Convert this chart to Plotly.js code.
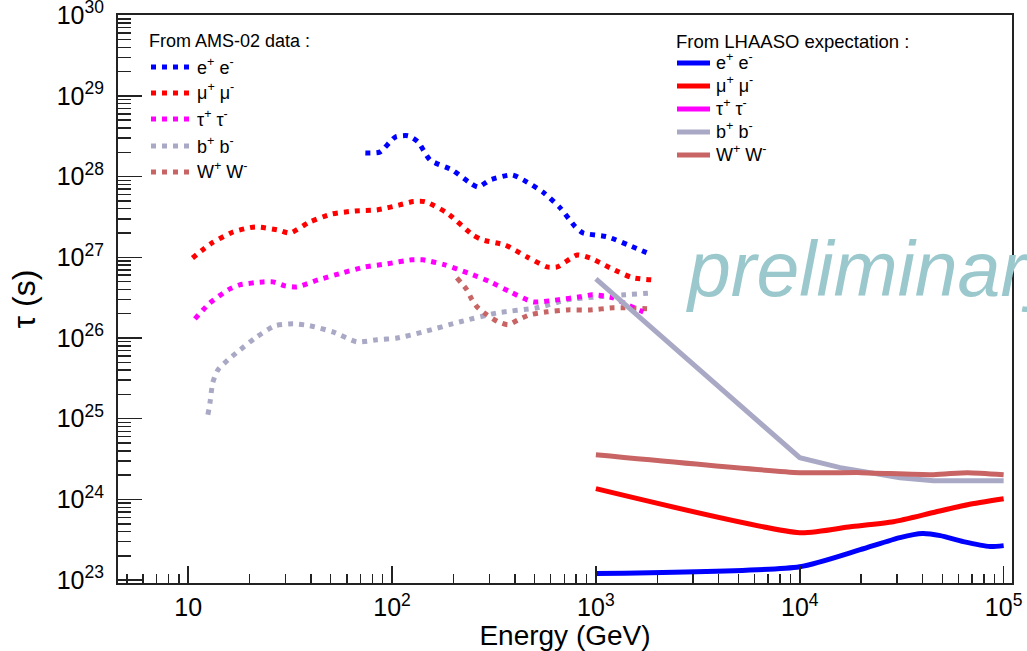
<!DOCTYPE html>
<html>
<head>
<meta charset="utf-8">
<script src="https://cdn.plot.ly/plotly-3.0.1.min.js"></script>
<style>html,body{margin:0;padding:0;background:#fff;}#chart{width:1027px;height:651px;}</style>
</head>
<body>
<div id="chart"></div>
<script>
// ---- AMS-02 derived limits (dotted) ----
const amsEeE   = [74, 87, 104, 120, 134, 154, 197, 242, 264, 303, 388, 440, 551, 668, 791, 866, 1136, 1442, 1890];
const amsEeTau = [1.96e28, 2.01e28, 3.1e28, 3.2e28, 2.7e28, 1.6e28, 1.21e28, 8.3e27, 7.4e27, 9.1e27, 1.05e28, 9.1e27, 6.4e27, 4.1e27, 2.4e27, 2.0e27, 1.8e27, 1.42e27, 1.07e27];

const amsMuE   = [10.5, 13.1, 16.6, 21.3, 27.6, 31.6, 39.5, 50.7, 65.7, 84.3, 109, 127, 145, 186, 249, 279, 359, 460, 577, 646, 810, 937, 1175, 1507, 1910];
const amsMuTau = [9.8e26, 1.51e27, 2.06e27, 2.38e27, 2.18e27, 2.0e27, 2.74e27, 3.44e27, 3.75e27, 3.86e27, 4.46e27, 4.9e27, 4.9e27, 3.55e27, 1.89e27, 1.64e27, 1.42e27, 1.01e27, 7.6e26, 7.6e26, 1.07e27, 9.8e26, 7.4e26, 5.6e26, 5.25e26];

const amsTauE   = [10.8, 12.8, 15.7, 17.9, 23.3, 26.1, 29.9, 34.2, 43.4, 56.9, 73.6, 94.4, 125, 142, 182, 236, 303, 380, 492, 646, 837, 959, 1216, 1426, 1710];
const amsTauTau = [1.73e26, 2.73e26, 3.95e26, 4.55e26, 4.96e26, 4.96e26, 4.43e26, 4.3e26, 5.25e26, 6.4e26, 7.6e26, 8.3e26, 9.3e26, 9.3e26, 8.05e26, 6.4e26, 4.96e26, 3.73e26, 2.8e26, 2.97e26, 3.24e26, 3.43e26, 3.15e26, 2.58e26, 2.11e26];

const amsBbE   = [12.5, 12.8, 13.2, 14.0, 15.7, 17.5, 21.3, 26.7, 32.7, 39.5, 51.3, 67.3, 84.3, 106, 142, 216, 328, 515, 723, 1014, 1390, 1910];
const amsBbTau = [1.12e25, 1.58e25, 2.79e25, 4.04e25, 5.37e25, 6.75e25, 1.0e26, 1.42e26, 1.5e26, 1.42e26, 1.19e26, 8.97e25, 9.5e25, 1.0e26, 1.19e26, 1.59e26, 2.05e26, 2.37e26, 2.97e26, 3.24e26, 3.43e26, 3.63e26];

const amsWwE   = [208, 233, 247, 264, 292, 331, 371, 415, 475, 577, 723, 937, 1216, 1390, 1782];
const amsWwTau = [5.56e26, 3.95e26, 2.97e26, 2.37e26, 1.94e26, 1.59e26, 1.46e26, 1.68e26, 1.94e26, 2.11e26, 2.23e26, 2.23e26, 2.37e26, 2.37e26, 2.30e26];

// ---- LHAASO expectation (solid) ----
const lhEeE   = [1000, 10000, 19800, 31000, 39900, 48900, 63400, 86000, 100000];
const lhEeTau = [1.21e23, 1.47e23, 2.39e23, 3.37e23, 3.78e23, 3.56e23, 3.0e23, 2.61e23, 2.68e23];
const lhMuE   = [1000, 10000, 17700, 28800, 45300, 66500, 100000];
const lhMuTau = [1.36e24, 3.88e23, 4.6e23, 5.3e23, 6.9e23, 8.6e23, 1.02e24];
const lhTauE   = [];
const lhTauTau = [];
const lhBbE   = [1000, 10000, 15800, 31000, 45300, 100000];
const lhBbTau = [5.4e26, 3.29e24, 2.48e24, 1.86e24, 1.71e24, 1.71e24];
const lhWwE   = [1000, 10000, 20000, 45300, 66500, 100000];
const lhWwTau = [3.58e24, 2.15e24, 2.15e24, 2.03e24, 2.15e24, 2.03e24];

const channelLabels = ['e<sup>+</sup> e<sup>-</sup>', '\u03bc<sup>+</sup> \u03bc<sup>-</sup>', '\u03c4<sup>+</sup> \u03c4<sup>-</sup>', 'b<sup>+</sup> b<sup>-</sup>', 'W<sup>+</sup> W<sup>-</sup>'];
const channelColors = ['#0000ff', '#ff0000', '#ff00ff', '#a9a9c6', '#c86464'];

const DOT = '5px,6px';
function dotted(x, y, c) {
  return {x: x, y: y, type: 'scatter', mode: 'lines', showlegend: false,
    line: {color: c, width: 5, dash: DOT, shape: 'spline', smoothing: 0.6}, hoverinfo: 'skip'};
}
function solid(x, y, c, shp) {
  return {x: x, y: y, type: 'scatter', mode: 'lines', showlegend: false,
    line: {color: c, width: 5, shape: shp || 'spline', smoothing: 0.6}, hoverinfo: 'skip'};
}

const data = [
  dotted(amsBbE, amsBbTau, channelColors[3]),
  dotted(amsWwE, amsWwTau, channelColors[4]),
  dotted(amsTauE, amsTauTau, channelColors[2]),
  dotted(amsMuE, amsMuTau, channelColors[1]),
  dotted(amsEeE, amsEeTau, channelColors[0]),
  solid(lhBbE, lhBbTau, channelColors[3], 'linear'),
  solid(lhWwE, lhWwTau, channelColors[4]),
  solid(lhMuE, lhMuTau, channelColors[1]),
  solid(lhEeE, lhEeTau, channelColors[0]),
  solid(lhTauE, lhTauTau, channelColors[2])
];

// legend construction (paper coordinates)
const W = 1027, H = 651, ML = 118, MR = 15, MT = 15, MB = 68;
const PW = W - ML - MR, PH = H - MT - MB;
const px = v => (v - ML) / PW;
const py = v => (H - MB - v) / PH;

const FAM = 'Liberation Sans, Arial, sans-serif';
const shapes = [];
const annotations = [];
const entryFont = {family: FAM, size: 18, color: '#000'};

annotations.push({xref: 'paper', yref: 'paper', x: px(147), y: py(41), xanchor: 'left', yanchor: 'middle',
  text: 'From AMS-02 data :', showarrow: false, font: {family: FAM, size: 18, color: '#000'}});
annotations.push({xref: 'paper', yref: 'paper', x: px(674), y: py(41), xanchor: 'left', yanchor: 'middle',
  text: 'From LHAASO expectation :', showarrow: false, font: {family: FAM, size: 18.5, color: '#000'}});

const leftY = [67, 93, 119, 146, 172];
const rightY = [63, 86, 109, 132, 155];
channelLabels.forEach((lab, i) => {
  shapes.push({type: 'line', xref: 'paper', yref: 'paper', x0: px(151), x1: px(191), y0: py(leftY[i]), y1: py(leftY[i]),
    line: {color: channelColors[i], width: 5, dash: DOT}});
  annotations.push({xref: 'paper', yref: 'paper', x: px(195), y: py(leftY[i] - 1), xanchor: 'left', yanchor: 'middle',
    text: lab, showarrow: false, font: entryFont});
  shapes.push({type: 'line', xref: 'paper', yref: 'paper', x0: px(677), x1: px(710), y0: py(rightY[i]), y1: py(rightY[i]),
    line: {color: channelColors[i], width: 5}});
  annotations.push({xref: 'paper', yref: 'paper', x: px(714), y: py(rightY[i] - 1), xanchor: 'left', yanchor: 'middle',
    text: lab, showarrow: false, font: entryFont});
});

annotations.push({xref: 'paper', yref: 'paper', x: px(684), y: py(314), xanchor: 'left', yanchor: 'bottom',
  text: '<i>preliminary</i>', showarrow: false,
  font: {family: FAM, size: 77, color: '#9ac8cc'}});

const tickFont = {family: FAM, size: 20, color: '#000'};

const layout = {
  width: W, height: H,
  margin: {l: ML, r: MR, t: MT, b: MB, pad: 0},
  paper_bgcolor: '#fff', plot_bgcolor: '#fff',
  showlegend: false,
  xaxis: {
    type: 'log', range: [0.656, 5.041], autorange: false,
    showgrid: false, zeroline: false,
    showline: true, linecolor: '#222', linewidth: 2, mirror: true,
    ticks: 'inside', ticklen: 17, tickwidth: 1.5, tickcolor: '#222',
    dtick: 1, exponentformat: 'power', tickfont: tickFont,
    ticklabelstandoff: 2, ticklabeloverflow: 'allow',
    minor: {ticks: 'inside', ticklen: 9, tickwidth: 1.5, tickcolor: '#222', dtick: 'D1', showgrid: false},
    title: {text: 'Energy (GeV)', font: {family: FAM, size: 28, color: '#000'}, standoff: 0}
  },
  yaxis: {
    type: 'log', range: [22.965, 30.002], autorange: false,
    showgrid: false, zeroline: false,
    showline: true, linecolor: '#222', linewidth: 2, mirror: true,
    ticks: 'inside', ticklen: 24, tickwidth: 1.5, tickcolor: '#222',
    dtick: 1, exponentformat: 'power', tickfont: tickFont,
    ticklabelstandoff: 8, ticklabeloverflow: 'allow',
    minor: {ticks: 'inside', ticklen: 13, tickwidth: 1.5, tickcolor: '#222', dtick: 'D1', showgrid: false},
    title: {text: '\u03c4 (s)', font: {family: FAM, size: 32, color: '#000'}, standoff: 12}
  },
  shapes: shapes,
  annotations: annotations
};

Plotly.newPlot('chart', data, layout, {staticPlot: true, displayModeBar: false});
</script>
</body>
</html>
